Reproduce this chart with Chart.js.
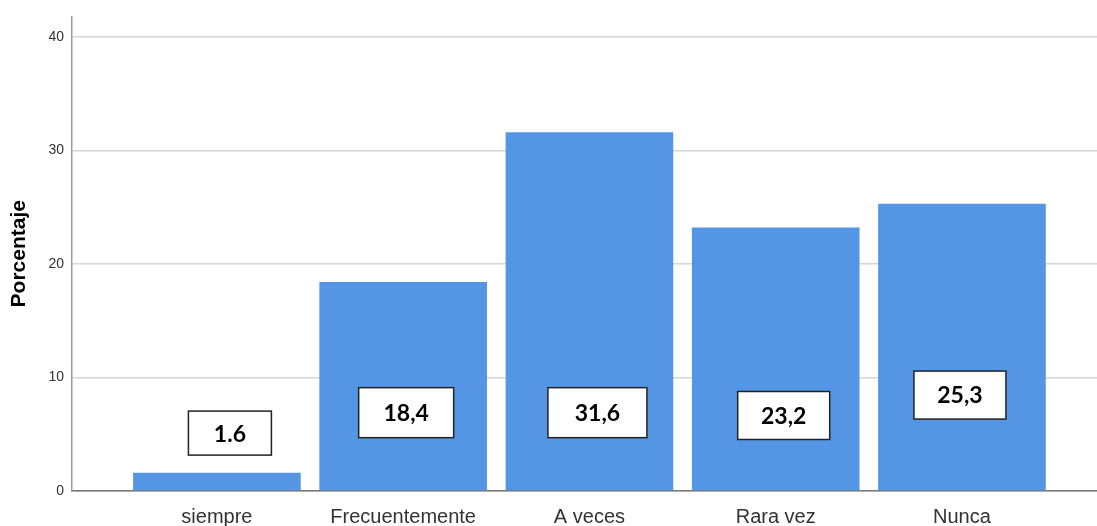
<!DOCTYPE html>
<html>
<head>
<meta charset="utf-8">
<script src="https://cdn.jsdelivr.net/npm/chart.js@4/dist/chart.umd.min.js"></script>
<style>
  html, body { margin: 0; padding: 0; background: #fff; }
  .wrap { width: 1097px; height: 526px; position: relative; }
</style>
</head>
<body>
<div class="wrap"><canvas id="chart"></canvas></div>
<script>
const categories = ["siempre", "Frecuentemente", "A veces", "Rara vez", "Nunca"]
const percent = [1.6, 18.4, 31.6, 23.2, 25.3]
const valueLabels = ["1.6", "18,4", "31,6", "23,2", "25,3"]
const yTicks = [0, 10, 20, 30, 40]

// where each boxed label sits: y in data units, x as a pixel nudge from the bar centre
const boxPlace = [
  { y: 5.1, dx: 13, w: 83, h: 44 },
  { y: 6.9, dx: 3, w: 95, h: 50 },
  { y: 6.9, dx: 8, w: 99, h: 50 },
  { y: 6.65, dx: 8, w: 92, h: 48 },
  { y: 8.45, dx: -2, w: 92, h: 48 }
]

const boxLabels = {
  id: "boxLabels",
  afterDatasetsDraw(chart) {
    const ctx = chart.ctx
    const xs = chart.scales.x
    const ys = chart.scales.y
    ctx.save()
    valueLabels.forEach((txt, i) => {
      const p = boxPlace[i]
      const cx = xs.getPixelForValue(i) + p.dx
      const cy = ys.getPixelForValue(p.y)
      ctx.fillStyle = "#ffffff"
      ctx.fillRect(cx - p.w / 2, cy - p.h / 2, p.w, p.h)
      ctx.strokeStyle = "#222"
      ctx.lineWidth = 1.5
      ctx.strokeRect(cx - p.w / 2, cy - p.h / 2, p.w, p.h)
      ctx.fillStyle = "#000"
      ctx.font = "bold 23px Lato, 'Liberation Sans', sans-serif"
      ctx.textAlign = "center"
      ctx.textBaseline = "middle"
      ctx.fillText(txt, cx, cy + 1)
    })
    ctx.restore()
  }
}

const ctx = document.getElementById("chart").getContext("2d")
new Chart(ctx, {
  type: "bar",
  data: {
    datasets: [{
      label: "Porcentaje",
      data: categories.map((c, i) => ({ x: i, y: percent[i] })),
      backgroundColor: "#5596e4",
      borderWidth: 0,
      barPercentage: 0.9,
      categoryPercentage: 1
    }]
  },
  options: {
    responsive: true,
    maintainAspectRatio: false,
    animation: false,
    layout: { padding: { top: 12, right: 0, left: 0, bottom: 0 } },
    plugins: {
      legend: { display: false },
      tooltip: { enabled: false }
    },
    scales: {
      x: {
        type: "linear",
        min: -0.778,
        max: 4.725,
        offset: false,
        afterFit: (scale) => { scale.height = 35 },
        grid: { display: false, drawTicks: false },
        border: { display: true, color: "#777", width: 1.5 },
        ticks: {
          stepSize: 1,
          includeBounds: false,
          autoSkip: false,
          maxRotation: 0,
          padding: 14,
          color: "#333",
          font: { family: "'Liberation Sans', Arial, sans-serif", size: 20 },
          callback: (v) => categories[v] ?? ""
        }
      },
      y: {
        min: 0,
        max: 41.8,
        afterBuildTicks: (scale) => { scale.ticks = yTicks.map(v => ({ value: v })) },
        afterFit: (scale) => { scale.width = 72 },
        grid: { color: "#d6d6d6", lineWidth: 1.5, drawTicks: false },
        border: { display: true, color: "#999", width: 1.5 },
        ticks: {
          padding: 8,
          color: "#333",
          font: { family: "'Liberation Sans', Arial, sans-serif", size: 14 }
        },
        title: {
          display: true,
          text: "Porcentaje",
          color: "#000",
          padding: { top: 7, bottom: 0 },
          font: { family: "'Liberation Sans', Arial, sans-serif", size: 21, weight: "bold" }
        }
      }
    }
  },
  plugins: [boxLabels]
})
</script>
</body>
</html>
